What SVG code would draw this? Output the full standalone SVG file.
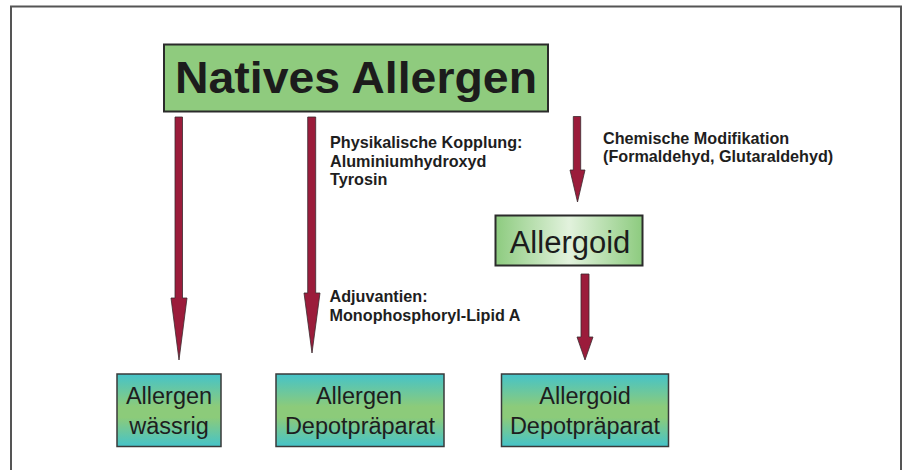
<svg xmlns="http://www.w3.org/2000/svg" width="905" height="470" viewBox="0 0 905 470">
<defs>
<linearGradient id="gAllergoid" x1="0" y1="0" x2="1" y2="0">
<stop offset="0" stop-color="#8dcb7f"/>
<stop offset="0.5" stop-color="#e2f2dd"/>
<stop offset="1" stop-color="#8dcb7f"/>
</linearGradient>
<linearGradient id="gBottom" x1="0" y1="0" x2="0" y2="1">
<stop offset="0" stop-color="#45c3c9"/>
<stop offset="0.45" stop-color="#8ccb7a"/>
<stop offset="0.6" stop-color="#8ccb7a"/>
<stop offset="1" stop-color="#45c3c9"/>
</linearGradient>
<style>
.frame{fill:none;stroke:#555;stroke-width:2}
.arrow{fill:#9b1c3b;stroke:#3a2a2e;stroke-width:0.8}
.lbl{font-family:"Liberation Sans",Arial,sans-serif;font-weight:bold;font-size:16.2px;fill:#1e1e1e}
.box{stroke:#2b2b2b;stroke-width:2}
.bbox{fill:url(#gBottom);stroke:#3a3a3a;stroke-width:1.5}
.btxt{font-family:"Liberation Sans",Arial,sans-serif;font-size:23.5px;fill:#1e1e1e;text-anchor:middle}
</style>
</defs>
<rect width="905" height="470" fill="#ffffff"/>
<rect class="frame" x="11" y="6.5" width="890" height="480"/>

<g id="connectors">
<path class="arrow" d="M175 117 H182.5 V298 H187 L179 360 L171 298 H175 Z"/>
<path class="arrow" d="M307.7 117 H315.7 V293 H320 L312 353 L304 293 H307.7 Z"/>
<path class="arrow" d="M573.3 116.5 H580.7 V170 H585 L577.5 202 L570 170 H573.3 Z"/>
<path class="arrow" d="M581 274 H589 V337 H593 L585 360 L577 337 H581 Z"/>
</g>

<g id="label-physikalisch">
<text class="lbl" x="330" y="148">Physikalische Kopplung:</text>
<text class="lbl" x="330" y="166.5">Aluminiumhydroxyd</text>
<text class="lbl" x="330" y="185">Tyrosin</text>
</g>
<g id="label-chemisch">
<text class="lbl" x="603" y="144">Chemische Modifikation</text>
<text class="lbl" x="603" y="162">(Formaldehyd, Glutaraldehyd)</text>
</g>
<g id="label-adjuvantien">
<text class="lbl" x="329.5" y="302">Adjuvantien:</text>
<text class="lbl" x="329.5" y="321">Monophosphoryl-Lipid A</text>
</g>

<g id="natives-allergen">
<rect class="box" x="164" y="44.5" width="384" height="67" fill="#8fcb7e"/>
<text x="356" y="93" font-family="'Liberation Sans',Arial,sans-serif" font-weight="bold" font-size="45" fill="#1c1c1c" text-anchor="middle" textLength="362" lengthAdjust="spacingAndGlyphs">Natives Allergen</text>
</g>

<g id="allergoid">
<rect class="box" x="495.5" y="215.5" width="147" height="50" fill="url(#gAllergoid)"/>
<text x="570" y="253" font-family="'Liberation Sans',Arial,sans-serif" font-size="31" fill="#1c1c1c" text-anchor="middle">Allergoid</text>
</g>

<g id="allergen-waessrig">
<rect class="bbox" x="117" y="374" width="104" height="72.5"/>
<text class="btxt" x="169" y="404">Allergen</text>
<text class="btxt" x="169" y="433.5">wässrig</text>
</g>

<g id="allergen-depot">
<rect class="bbox" x="276" y="374" width="168" height="72.5"/>
<text class="btxt" x="359" y="404">Allergen</text>
<text class="btxt" x="360" y="433.5">Depotpräparat</text>
</g>

<g id="allergoid-depot">
<rect class="bbox" x="501.5" y="374" width="167" height="72.5"/>
<text class="btxt" x="585" y="404">Allergoid</text>
<text class="btxt" x="585" y="433.5">Depotpräparat</text>
</g>
</svg>
